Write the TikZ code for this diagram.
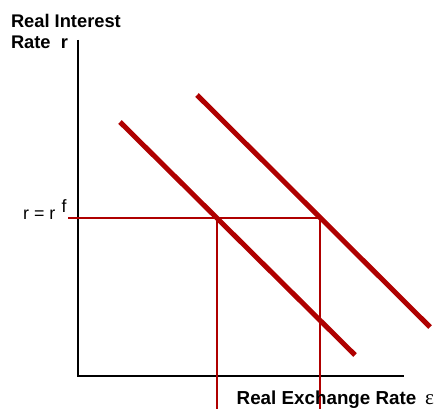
\documentclass[tikz,border=0pt]{standalone}
\usepackage{fontspec}
\setmainfont{Liberation Sans}
\newfontfamily\epsfont{Liberation Serif}
\definecolor{curvered}{RGB}{175,0,0}
\begin{document}
\begin{tikzpicture}[x=1pt,y=-1pt,
  axis/.style={line width=2.2pt,black},
  curve/.style={line width=5pt,curvered},
  guide/.style={line width=2pt,curvered},
  boldlbl/.style={font=\fontsize{18.3}{21}\selectfont\bfseries,inner sep=0pt,anchor=base west},
  plainlbl/.style={font=\fontsize{17.8}{20}\selectfont,inner sep=0pt,anchor=base west}]
\useasboundingbox (0,0) rectangle (441,409);
% axes
\coordinate (ytop) at (78,40);
\coordinate (origin) at (78,376);
\coordinate (xend) at (404,376);
\draw[axis] (ytop) -- (origin) -- (xend);
% guides
\coordinate (gleft) at (68,218);
\coordinate (e1) at (217,218);
\coordinate (e2) at (320,218);
\coordinate (b1) at (217,409);
\coordinate (b2) at (320,409);
\draw[guide] (gleft) -- (e2);
\draw[guide] (e1) -- (b1);
\draw[guide] (e2) -- (b2);
% curves
\coordinate (c1a) at (120,122);
\coordinate (c1b) at (355,355);
\coordinate (c2a) at (197,95);
\coordinate (c2b) at (430,327);
\draw[curve] (c1a) -- (c1b);
\draw[curve] (c2a) -- (c2b);
% labels
\node[boldlbl] (yl1) at (10.8,28) {Real Interest};
\node[boldlbl] (yl2) at (10.8,49) {Rate\ \ r};
\node[boldlbl,font=\fontsize{18.8}{21}\selectfont\bfseries] (xl) at (236.5,404) {Real Exchange Rate};
\node[plainlbl,font=\fontsize{21}{23}\selectfont\epsfont] (eps) at (425,404) {ε};
\node[plainlbl] (rr) at (23,219) {r = r};
\node[plainlbl] (rf) at (61.5,212) {f};
\end{tikzpicture}
\end{document}
